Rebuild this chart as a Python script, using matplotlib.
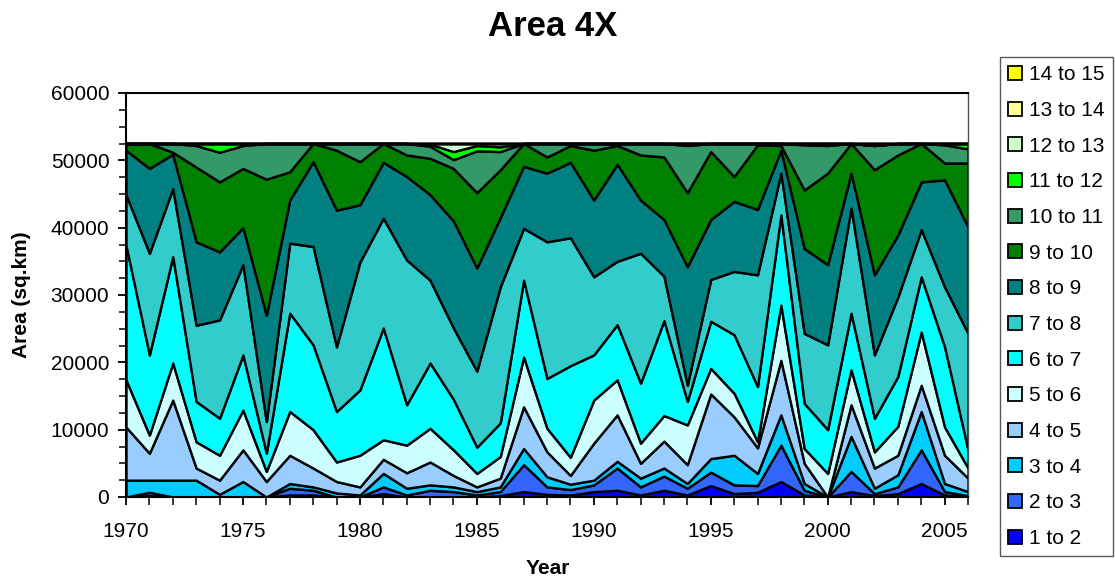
import matplotlib
matplotlib.use('Agg')

import numpy as np
import matplotlib.pyplot as plt
from matplotlib.patches import Patch
from matplotlib.ticker import MultipleLocator

plt.rcParams['font.family'] = ['Liberation Sans', 'DejaVu Sans']

years = np.arange(1970, 2007)

# area (thousand sq.km) in each depth band, one value per year
d1_2 = [0, 0.2, 0, 0, 0, 0, 0, 0.3, 0.3, 0, 0, 0.5, 0, 0, 0, 0, 0.2, 0.8, 0.4, 0.3,
        0.8, 1.0, 0.3, 1.0, 0.3, 1.7, 0.5, 0.7, 2.3, 0.3, 0, 0.8, 0.2, 0.5, 2.0, 0.3, 0]
d2_3 = [0, 0.5, 0, 0, 0, 0, 0, 1.0, 0.7, 0, 0, 1.0, 0.3, 1.0, 0.8, 0.3, 0.6, 4.0, 1.1, 0.8,
        1.0, 3.3, 1.2, 2.1, 1.0, 2.0, 1.3, 1.0, 5.4, 0.7, 0, 3.0, 0.3, 1.0, 5.0, 0.5, 0.2]
d3_4 = [2.5, 1.8, 2.5, 2.5, 0.4, 2.3, 0, 0.7, 0.5, 0.6, 0.3, 2.0, 1.0, 0.8, 0.7, 0.5, 0.7, 2.4, 1.5, 0.8,
        0.7, 1.0, 1.3, 1.2, 0.7, 2.0, 4.4, 1.8, 4.5, 1.0, 0, 5.2, 0.8, 1.8, 5.7, 1.2, 0.6]
d4_5 = [7.9, 4.0, 11.9, 1.8, 2.1, 4.7, 2.3, 4.2, 2.8, 1.7, 1.2, 2.1, 2.3, 3.4, 1.7, 0.7, 1.3, 6.2, 3.7, 1.3,
        5.5, 6.9, 2.2, 4.0, 2.8, 9.6, 5.7, 3.8, 8.1, 3.0, 0, 4.7, 3.0, 2.9, 3.9, 4.2, 2.0]
d5_6 = [7.0, 2.7, 5.5, 3.9, 3.7, 5.9, 1.5, 6.5, 5.7, 2.9, 4.7, 2.9, 4.1, 5.0, 3.8, 2.0, 3.2, 7.4, 3.5, 2.7,
        6.4, 5.2, 3.0, 3.8, 5.9, 3.8, 3.5, 0.9, 8.2, 2.2, 3.5, 5.2, 2.4, 4.3, 7.9, 4.2, 1.5]
d6_7 = [20.0, 11.9, 15.8, 6.0, 5.5, 8.2, 2.7, 14.6, 12.6, 7.5, 9.7, 16.6, 6.0, 9.7, 7.5, 3.9, 5.0, 11.4, 7.4, 13.6,
        6.7, 8.2, 8.9, 14.1, 3.5, 7.0, 8.7, 8.2, 13.4, 6.7, 6.5, 8.4, 5.0, 7.4, 8.2, 11.9, 2.7]
d7_8 = [7.5, 15.1, 10.1, 11.3, 14.6, 13.4, 4.7, 10.4, 14.6, 9.6, 19.0, 16.3, 21.5, 12.3, 10.6, 11.3, 20.2, 7.7, 20.3, 19.0,
        11.6, 9.4, 19.3, 6.6, 2.4, 6.2, 9.4, 16.6, 6.2, 10.4, 12.6, 15.6, 9.4, 11.8, 7.0, 8.9, 17.3]
d8_9 = [6.6, 12.6, 5.1, 12.4, 10.1, 5.5, 15.8, 6.4, 12.6, 20.3, 8.5, 8.3, 12.4, 12.7, 15.9, 15.3, 10.3, 9.2, 10.2, 11.2,
        11.4, 14.4, 7.9, 8.4, 17.6, 8.9, 10.4, 9.7, 3.4, 12.6, 11.9, 5.2, 11.9, 9.2, 7.1, 15.9, 15.8]
d9_10 = [1.0, 3.7, 0.3, 11.1, 10.4, 8.8, 20.2, 4.2, 2.7, 8.9, 6.4, 2.8, 3.2, 5.4, 7.8, 11.2, 7.1, 3.4, 2.4, 2.5,
         7.4, 2.8, 6.7, 9.3, 11.0, 10.1, 3.7, 9.6, 0.7, 8.7, 13.6, 4.4, 15.6, 11.9, 5.7, 2.5, 9.5]
d10_11 = [0, 0, 1.3, 3.2, 4.4, 3.4, 5.3, 4.2, 0, 1.0, 2.7, 0, 1.7, 1.8, 1.3, 6.2, 2.7, 0, 2.0, 0.3,
          1.0, 0.3, 1.7, 2.0, 7.0, 1.2, 4.9, 0.2, 0.3, 6.7, 4.1, 0, 3.6, 1.7, 0, 2.7, 2.1]
d11_12 = [0, 0, 0, 0.3, 1.3, 0.3, 0, 0, 0, 0, 0, 0, 0, 0.3, 1.2, 0.8, 0.7, 0, 0, 0,
          0, 0, 0, 0, 0.3, 0, 0, 0, 0, 0.2, 0.3, 0, 0, 0, 0, 0.2, 0.8]
d12_13 = [0, 0, 0, 0, 0, 0, 0, 0, 0, 0, 0, 0, 0, 0.1, 1.2, 0.3, 0.5, 0, 0, 0,
          0, 0, 0, 0, 0, 0, 0, 0, 0, 0, 0, 0, 0.3, 0, 0, 0, 0]
d13_14 = [0] * 37
d14_15 = [0] * 37

labels = ['1 to 2', '2 to 3', '3 to 4', '4 to 5', '5 to 6', '6 to 7', '7 to 8',
          '8 to 9', '9 to 10', '10 to 11', '11 to 12', '12 to 13', '13 to 14', '14 to 15']
colors = ['#0000FF', '#3366FF', '#00CCFF', '#99CCFF', '#CCFFFF', '#00FFFF', '#33CCCC',
          '#008080', '#008000', '#339966', '#00FF00', '#CCFFCC', '#FFFF99', '#FFFF00']

bands = np.array([d1_2, d2_3, d3_4, d4_5, d5_6, d6_7, d7_8, d8_9, d9_10,
                  d10_11, d11_12, d12_13, d13_14, d14_15]) * 1000

W, H = 1115, 582
fig = plt.figure(figsize=(W / 100, H / 100), dpi=100)
ax = fig.add_axes([126 / W, 1 - 497 / H, 842 / W, 404 / H])

ax.stackplot(years, bands, colors=colors, edgecolor='black', linewidth=1.7)

ax.set_xlim(1970, 2006)
ax.set_ylim(0, 60000)
ax.yaxis.set_major_locator(MultipleLocator(10000))
ax.yaxis.set_minor_locator(MultipleLocator(2500))
ax.xaxis.set_major_locator(MultipleLocator(5))
ax.xaxis.set_minor_locator(MultipleLocator(1))
ax.tick_params(axis='both', which='major', labelsize=15, length=6, width=1.3, direction='out')
ax.tick_params(axis='both', which='minor', length=5, width=1.1, direction='out')
ax.tick_params(axis='x', which='minor', length=6)
ax.tick_params(axis='x', pad=12)
ax.tick_params(axis='y', pad=6)
for side in ['left', 'bottom', 'top']:
    ax.spines[side].set_linewidth(1.5)
ax.spines['right'].set_linewidth(1.0)
ax.spines['right'].set_color('#505050')

fig.text(553 / W, 1 - 27 / H, 'Area 4X', fontsize=25, fontweight='bold',
         ha='center', va='center')
fig.text(22 / W, 1 - 295 / H, 'Area (sq.km)', fontsize=15, fontweight='bold',
         rotation=90, ha='center', va='center')
fig.text(548 / W, 1 - 569 / H, 'Year', fontsize=15, fontweight='bold',
         ha='center', va='center')

handles = [Patch(facecolor=c, edgecolor='black', linewidth=1.3) for c in colors]
leg = fig.legend(handles[::-1], labels[::-1], loc='upper left',
                 bbox_to_anchor=(1000 / W, 1 - 57 / H), fontsize=15,
                 frameon=True, fancybox=False, edgecolor='#303030',
                 handlelength=0.65, handleheight=0.65, handletextpad=0.35,
                 labelspacing=0.8, borderpad=0.4, borderaxespad=0)
leg.get_frame().set_linewidth(1.0)

fig.savefig('out.png', dpi=100)
